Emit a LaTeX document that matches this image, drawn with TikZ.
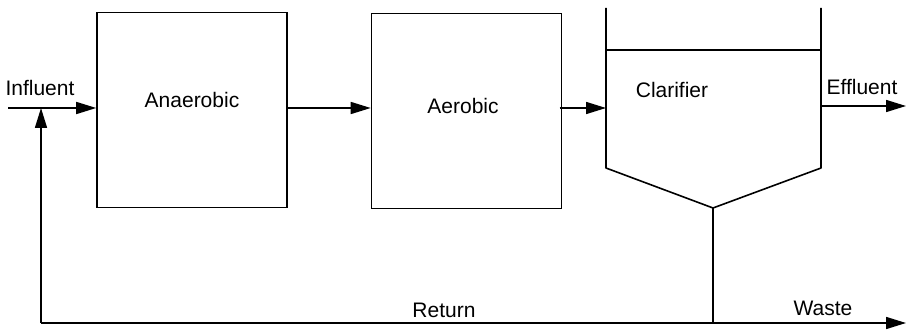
\documentclass[tikz,border=0pt]{standalone}
\usepackage{fontspec}
\setmainfont{Liberation Sans}
\usetikzlibrary{arrows.meta}
\begin{document}
\begin{tikzpicture}[x=1pt,y=-1pt,
  line width=1.6pt,
  every node/.style={font=\fontsize{21}{23}\selectfont},
  unit/.style={draw,line width=1.6pt,minimum width=190pt,minimum height=195pt,inner sep=0pt},
  flow/.style={-{Triangle[length=20pt,width=12pt]}},
  lbl/.style={inner sep=0pt,anchor=center}]
\useasboundingbox (0,0) rectangle (907,331);
% units
\node[unit] (ana) at (192,110) {};
\node[unit] (aer) at (466.5,111) {};
\node[lbl] (anaL) at (192,100) {Anaerobic};
\node[lbl] (aerL) at (463,106) {Aerobic};
% clarifier
\coordinate (cTL) at (606,8);
\coordinate (cTR) at (821,8);
\coordinate (cBL) at (606,168);
\coordinate (cBR) at (821,168);
\coordinate (cV) at (713,208);
\coordinate (cIn) at (606,108);
\coordinate (cOut) at (821,106);
\draw[line join=round] (cTL) -- (cBL) -- (cV) -- (cBR) -- (cTR);
\draw (606,50) -- (821,50);
\node[lbl] (clarL) at (672,90) {Clarifier};
% influent
\coordinate (inStart) at (8,108);
\coordinate (junction) at (41,108);
\draw[flow] (inStart) -- (ana.west |- inStart);
\node[lbl] (infL) at (40,88) {Influent};
% between units
\draw[flow] (ana.east |- 0,108) -- (aer.west |- 0,108);
\draw[flow] (aer.west |- 0,108) ++(189,0) -- (cIn);
% effluent
\coordinate (effEnd) at (906,106);
\draw[flow] (cOut) -- (effEnd);
\node[lbl] (effL) at (862,87) {Effluent};
% return & waste
\coordinate (retCorner) at (41,323);
\coordinate (wasteJ) at (713,323);
\coordinate (wasteEnd) at (906,323);
\draw (cV) -- (wasteJ);
\draw[flow] (retCorner) -- (junction);
\draw[flow] (retCorner) -- (wasteEnd);
\node[lbl] (retL) at (444,310) {Return};
\node[lbl] (wasL) at (823,308) {Waste};
\end{tikzpicture}
\end{document}
